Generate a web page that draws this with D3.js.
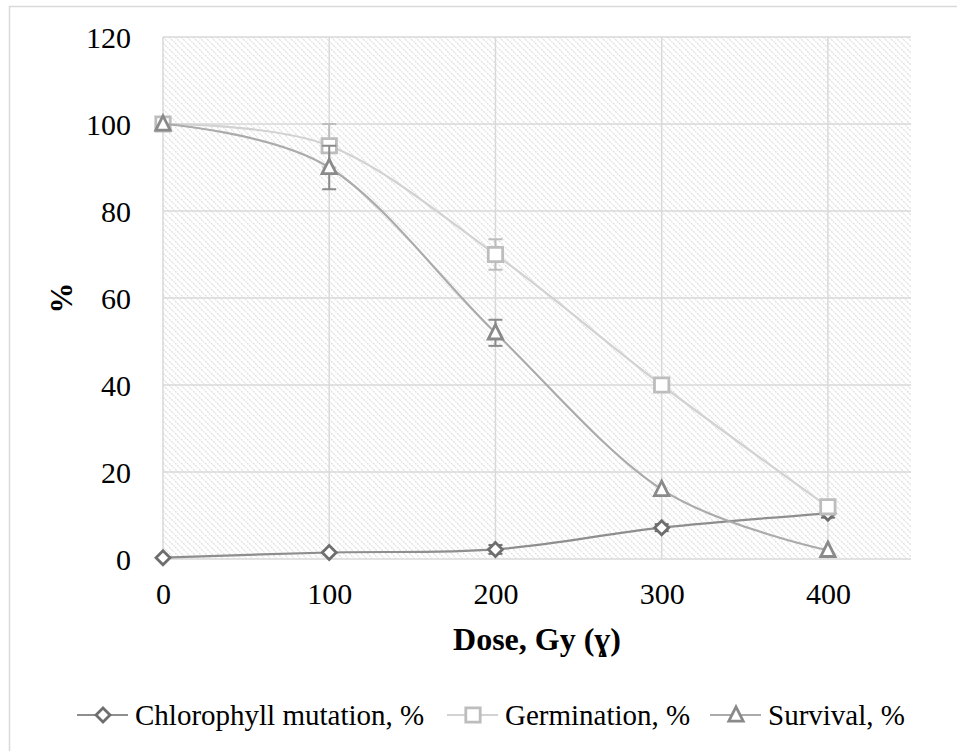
<!DOCTYPE html>
<html>
<head>
<meta charset="utf-8">
<script src="https://cdn.jsdelivr.net/npm/d3@7"></script>
<style>
  body { margin: 0; background: white; }
  text { font-family: "Liberation Serif", "Times New Roman", serif; fill: #000; }
</style>
</head>
<body>
<div id="chart"></div>
<script>
// data
var doses = [0, 100, 200, 300, 400];
var chlorophyll = [0.3, 1.5, 2.2, 7.2, 10.5];
var chlorophyllErr = [0, 0, 1, 0.8, 1];
var germination = [100, 95, 70, 40, 12];
var germinationErr = [0, 5, 3.5, 0, 0];
var survival = [100, 90, 52, 16, 2];
var survivalErr = [0, 5, 3, 0, 0];
var xTicks = [0, 100, 200, 300, 400];
var yTicks = [0, 20, 40, 60, 80, 100, 120];

var width = 957,
    height = 751;

var svg = d3.select("#chart").append("svg")
    .attr("width", width)
    .attr("height", height);

// diagonal hatch for the plot area
var defs = svg.append("defs");
var pat = defs.append("pattern")
    .attr("id", "hatch")
    .attr("patternUnits", "userSpaceOnUse")
    .attr("width", 6)
    .attr("height", 6);
pat.append("path")
    .attr("d", "M-1,-1 L7,7 M-1,5 L1,7 M5,-1 L7,1")
    .attr("stroke", "#dcdcdc")
    .attr("stroke-width", 1.2)
    .attr("stroke-dasharray", "2,1");

// chart border
svg.append("rect")
    .attr("x", 9.5).attr("y", 6.5)
    .attr("width", 980).attr("height", 780)
    .attr("fill", "none")
    .attr("stroke", "#d9d9d9")
    .attr("stroke-width", 1.5);

var x = d3.scaleLinear().domain([0, 450]).range([163, 911]);
var y = d3.scaleLinear().domain([0, 120]).range([559, 37]);

svg.append("rect")
    .attr("x", x(0)).attr("y", y(120))
    .attr("width", x(450) - x(0)).attr("height", y(0) - y(120))
    .attr("fill", "url(#hatch)");

// gridlines
svg.append("g")
    .selectAll("line")
    .data(yTicks)
    .enter().append("line")
    .attr("x1", x(0)).attr("x2", x(450))
    .attr("y1", function(d) { return y(d); })
    .attr("y2", function(d) { return y(d); })
    .attr("stroke", "#d9d9d9")
    .attr("stroke-width", 1.5);

svg.append("g")
    .selectAll("line")
    .data(xTicks)
    .enter().append("line")
    .attr("x1", function(d) { return x(d); })
    .attr("x2", function(d) { return x(d); })
    .attr("y1", y(0)).attr("y2", y(120))
    .attr("stroke", "#d9d9d9")
    .attr("stroke-width", 1.5);

// axes (labels only, like the original)
var yAxis = svg.append("g")
    .attr("transform", "translate(" + (x(0) - 8) + ",0)")
    .call(d3.axisLeft(y).tickValues(yTicks).tickSize(0).tickPadding(24));
yAxis.select(".domain").remove();
yAxis.selectAll("text")
    .style("font-family", "Liberation Serif")
    .style("font-size", "30px")
    .attr("dy", "0.35em");

var xAxis = svg.append("g")
    .attr("transform", "translate(0," + y(0) + ")")
    .call(d3.axisBottom(x).tickValues(xTicks).tickSize(0).tickPadding(24));
xAxis.select(".domain").remove();
xAxis.selectAll("text")
    .style("font-family", "Liberation Serif")
    .style("font-size", "30px");

svg.append("text")
    .attr("x", x(225))
    .attr("y", 650)
    .attr("text-anchor", "middle")
    .style("font-size", "32px")
    .style("font-weight", "bold")
    .text("Dose, Gy (ɣ)");

svg.append("text")
    .attr("transform", "translate(72,298) rotate(-90)")
    .attr("text-anchor", "middle")
    .style("font-size", "31px")
    .style("font-weight", "bold")
    .text("%");

// marker shapes, half-size r in px
function marker(kind, r) {
  if (kind === "diamond") return "M0," + (-r) + "L" + r + ",0L0," + r + "L" + (-r) + ",0Z";
  if (kind === "square") return "M" + (-r) + "," + (-r) + "H" + r + "V" + r + "H" + (-r) + "Z";
  return "M0," + (-r - 1) + "L" + r + "," + (r - 1) + "H" + (-r) + "Z";
}

var series = [
  {name: "Chlorophyll mutation, %", values: chlorophyll, err: chlorophyllErr,
   line: "#8e8e8e", mark: "#6e6e6e", kind: "diamond", r: 7},
  {name: "Germination, %", values: germination, err: germinationErr,
   line: "#d2d2d2", mark: "#bdbdbd", kind: "square", r: 7.2},
  {name: "Survival, %", values: survival, err: survivalErr,
   line: "#ababab", mark: "#8a8a8a", kind: "triangle", r: 7.2}
];

var line = d3.line()
    .x(function(d, i) { return x(doses[i]); })
    .y(function(d) { return y(d); })
    .curve(d3.curveCardinal);

series.forEach(function(s) {
  var g = svg.append("g");

  g.append("path")
      .attr("d", line(s.values))
      .attr("fill", "none")
      .attr("stroke", s.line)
      .attr("stroke-width", 2.2);

  // error bars
  var pts = s.values.map(function(v, i) { return {x: doses[i], v: v, e: s.err[i]}; })
      .filter(function(d) { return d.e > 0; });
  var eb = g.selectAll(".err")
      .data(pts)
      .enter().append("g");
  eb.append("line")
      .attr("x1", function(d) { return x(d.x); })
      .attr("x2", function(d) { return x(d.x); })
      .attr("y1", function(d) { return y(d.v + d.e); })
      .attr("y2", function(d) { return y(d.v - d.e); })
      .attr("stroke", s.mark).attr("stroke-width", 2);
  [1, -1].forEach(function(k) {
    eb.append("line")
        .attr("x1", function(d) { return x(d.x) - 7; })
        .attr("x2", function(d) { return x(d.x) + 7; })
        .attr("y1", function(d) { return y(d.v + k * d.e); })
        .attr("y2", function(d) { return y(d.v + k * d.e); })
        .attr("stroke", s.mark).attr("stroke-width", 2);
  });

  g.selectAll(".pt")
      .data(s.values)
      .enter().append("path")
      .attr("transform", function(d, i) { return "translate(" + x(doses[i]) + "," + y(d) + ")"; })
      .attr("d", marker(s.kind, s.r))
      .attr("fill", "white")
      .attr("stroke", s.mark)
      .attr("stroke-width", 2.8);
});

// legend
var legendX = [77, 447, 710];
var legend = svg.append("g")
    .selectAll("g")
    .data(series)
    .enter().append("g")
    .attr("transform", function(d, i) { return "translate(" + legendX[i] + ",715)"; });

legend.append("line")
    .attr("x1", 0).attr("x2", 51)
    .attr("stroke", function(d) { return d.line; })
    .attr("stroke-width", 2.2);
legend.append("path")
    .attr("transform", "translate(26,0)")
    .attr("d", function(d) { return marker(d.kind, d.r); })
    .attr("fill", "white")
    .attr("stroke", function(d) { return d.mark; })
    .attr("stroke-width", 2.8);
legend.append("text")
    .attr("x", 58)
    .attr("dy", "0.35em")
    .style("font-size", "29px")
    .text(function(d) { return d.name; });
</script>
</body>
</html>
